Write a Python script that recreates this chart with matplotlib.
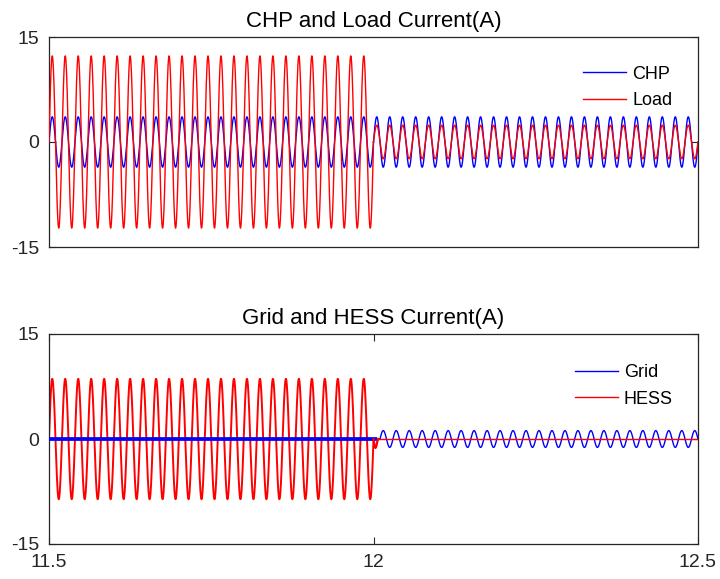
import numpy as np
import matplotlib
matplotlib.use("Agg")
import matplotlib.pyplot as plt
from matplotlib.lines import Line2D

plt.rcParams['font.family'] = ['Liberation Sans', 'DejaVu Sans']

# ---- data ----
t_start, t_switch, t_end = 11.5, 12.0, 12.5
freq_hz = 50.0
chp_amp_before, chp_amp_after = 3.6, 3.6
load_amp_before, load_amp_after = 12.3, 2.4
hess_amp_before = 8.6
grid_amp_after = 1.2
grid_thick_end = 12.006
grid_wave_start = 12.01
hess_dip_t = [12.0, 12.0015, 12.003, 12.0045, 12.006, 12.0075]
hess_dip_v = [0.0, -0.9, -1.3, -1.0, -0.3, 0.0]

y_ticks = [-15, 0, 15]
x_ticks = [11.5, 12, 12.5]
x_tick_labels = ['11.5', '12', '12.5']

titles = ['CHP and Load Current(A)', 'Grid and HESS Current(A)']

# ---- build waveforms ----
dt = 5e-5
t_b = np.arange(t_start, t_switch + dt / 2, dt)
t_a = np.arange(t_switch, t_end + dt / 2, dt)
w = 2 * np.pi * freq_hz

fig = plt.figure(figsize=(7.2, 5.79), dpi=100)
L, R = 49 / 720, 698 / 720
ax1 = fig.add_axes([L, 1 - 247 / 579, R - L, 210 / 579])
ax2 = fig.add_axes([L, 1 - 544 / 579, R - L, 210 / 579])

BLUE, RED = (0, 0, 1), (1, 0, 0)

# top panel
ax1.plot(t_b, chp_amp_before * np.sin(w * (t_b - t_start)), color=BLUE, lw=1.0, zorder=3)
ax1.plot(t_a, chp_amp_after * np.sin(w * (t_a - t_start)), color=BLUE, lw=1.0, zorder=3)
ax1.plot(t_b, load_amp_before * np.sin(w * (t_b - t_start)), color=RED, lw=1.0, zorder=4)
ax1.plot(t_a, load_amp_after * np.sin(w * (t_a - t_start)), color=RED, lw=1.0, zorder=4)

# bottom panel
ax2.plot(t_b, hess_amp_before * np.sin(w * (t_b - t_start)), color=RED, lw=1.4, zorder=2)
tg0 = np.array([t_start, grid_thick_end])
ax2.plot(tg0, np.zeros_like(tg0), color=BLUE, lw=2.7, zorder=3, solid_capstyle='butt')
tgw = np.arange(grid_wave_start, t_end + dt / 2, dt)
ax2.plot(np.r_[grid_thick_end, tgw], np.r_[0.0, -grid_amp_after * np.sin(w * (tgw - t_start))],
         color=BLUE, lw=1.0, zorder=3)
ax2.plot(hess_dip_t, hess_dip_v, color=RED, lw=1.6, zorder=4)
ax2.plot([hess_dip_t[-1], t_end], [0, 0], color=RED, lw=1.0, zorder=4)

for ax, title in zip([ax1, ax2], titles):
    ax.set_xlim(t_start, t_end)
    ax.set_ylim(-15, 15)
    ax.set_yticks(y_ticks)
    ax.set_yticklabels([str(v) for v in y_ticks])
    ax.set_title(title, fontsize=16, pad=7)
    ax.tick_params(direction='in', length=5, width=0.8, top=True, right=True,
                   labelsize=14, pad=7, colors='#262626', labelcolor='#262626')
    for s in ax.spines.values():
        s.set_color('#262626')
        s.set_linewidth(0.9)

ax1.set_xticks([])
ax2.set_xticks(x_ticks)
ax2.set_xticklabels(x_tick_labels)

h1 = [Line2D([], [], color=BLUE, lw=1.0), Line2D([], [], color=RED, lw=1.0)]
ax1.legend(h1, ['CHP', 'Load'], loc='upper left', bbox_to_anchor=(0.823, 0.863),
           frameon=False, fontsize=13, handlelength=2.4, handletextpad=0.33,
           labelspacing=0.53, borderpad=0, borderaxespad=0)
ax2.legend(h1, ['Grid', 'HESS'], loc='upper left', bbox_to_anchor=(0.810, 0.857),
           frameon=False, fontsize=13, handlelength=2.4, handletextpad=0.33,
           labelspacing=0.53, borderpad=0, borderaxespad=0)

fig.savefig('out.png', dpi=100)
